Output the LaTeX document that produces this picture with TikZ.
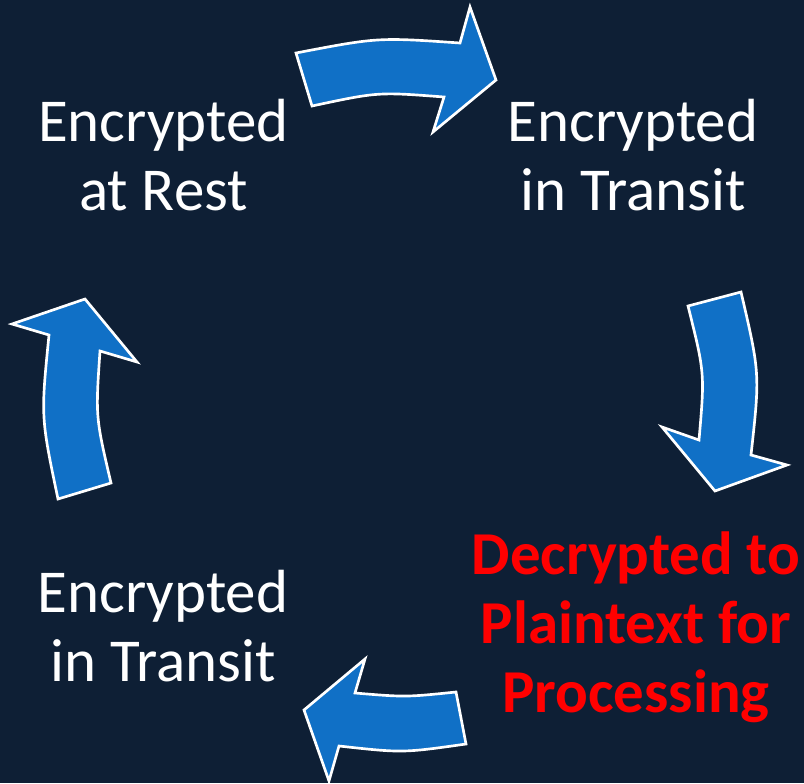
\documentclass[tikz,border=0pt]{standalone}
\usepackage{fontspec}
\setmainfont{Carlito}
\definecolor{navy}{HTML}{0E1F35}
\definecolor{arrowblue}{HTML}{1070C6}
\definecolor{alertred}{HTML}{FF0000}
\begin{document}
\begin{tikzpicture}[x=0.75pt,y=-0.75pt,
  blockarrow/.style={fill=arrowblue,draw=white,line width=2pt,line join=miter},
  stage/.style={text=white,align=center,inner sep=0pt,anchor=base,
    font=\fontsize{45.7}{51.75}\selectfont},
  alert/.style={stage,text=alertred,font=\fontsize{45.7}{51.75}\selectfont\bfseries}]
% background
\fill[navy] (0,0) rectangle (804,783);
\useasboundingbox (0,0) rectangle (804,783);

% stage labels (base anchor sits on the last line)
\node[stage] (rest)     at (163.5,210) {Encrypted\\at Rest};
\node[stage] (transit1) at (633,210)   {Encrypted\\in Transit};
\node[alert] (plain)    at (636,712)   {Decrypted to\\Plaintext for\\Processing};
\node[stage] (transit2) at (163,681)   {Encrypted\\in Transit};

% curved block arrows around the cycle
% top: rest -> transit
\draw[blockarrow] (296,53) .. controls (378,37.3) .. (460,43) -- (470,7) -- (496,80)
  -- (433,132) -- (444,97) .. controls (378,91.9) .. (312,106) -- cycle;
% right: transit -> plaintext
\draw[blockarrow] (688,306) -- (741,292) .. controls (760,373.5) .. (751,455) -- (787,465)
  -- (715,491) -- (662,427) -- (699,440) .. controls (704.8,373) .. cycle;
% bottom: plaintext -> transit
\draw[blockarrow] (456,692) -- (466,744) .. controls (402.5,753) .. (339,746) -- (329,781)
  -- (304,710) -- (365,659) -- (355,693) .. controls (405.5,697.2) .. cycle;
% left: transit -> rest
\draw[blockarrow] (58,499) -- (111,483) .. controls (95.5,417) .. (100,351) -- (137,362)
  -- (85,299) -- (12,324) -- (49,335) .. controls (40.8,417) .. cycle;
\end{tikzpicture}
\end{document}
